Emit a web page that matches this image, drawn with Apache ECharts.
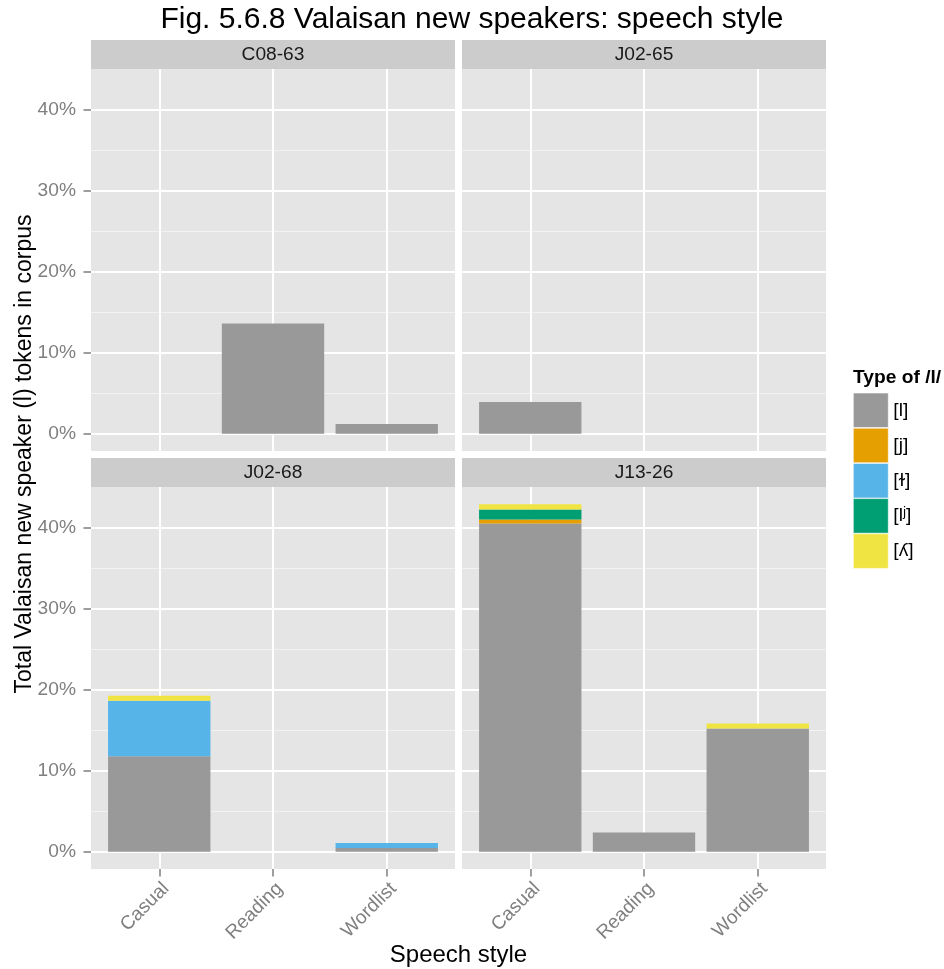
<!DOCTYPE html>
<html>
<head>
<meta charset="utf-8">
<title>Valaisan new speakers: speech style</title>
<script src="https://cdn.jsdelivr.net/npm/echarts@6/dist/echarts.min.js"></script>
<style>
  html, body { margin: 0; padding: 0; background: #ffffff; }
  #chart { width: 944px; height: 969px; }
</style>
</head>
<body>
<div id="chart"></div>
<script>
// Facet labels, x categories and fill types
const speakers = ['C08-63', 'J02-65', 'J02-68', 'J13-26'];
const categories = ['Casual', 'Reading', 'Wordlist'];
const lTypes = ['[l]', '[j]', '[ɫ]', '[lʲ]', '[ʎ]'];
const typeColors = ['#999999', '#E69F00', '#56B4E9', '#009E73', '#F0E442'];
const yTicks = [0, 10, 20, 30, 40];
const yMinorTicks = [5, 15, 25, 35];

// Share of tokens (%) per speaker: one row per type (order of lTypes),
// one column per speech style (order of categories)
const C08_63 = [
  [null, 13.6, 1.2],
  [null, null, null],
  [null, null, null],
  [null, null, null],
  [null, null, null]
];
const J02_65 = [
  [3.9, null, null],
  [null, null, null],
  [null, null, null],
  [null, null, null],
  [null, null, null]
];
const J02_68 = [
  [11.8, null, 0.46],
  [null, null, null],
  [6.85, null, 0.62],
  [null, null, null],
  [0.62, null, null]
];
const J13_26 = [
  [40.55, 2.35, 15.2],
  [0.5, null, null],
  [null, null, null],
  [1.24, null, null],
  [0.62, null, 0.62]
];
const panelValues = [C08_63, J02_65, J02_68, J13_26];

// Shared y range: stacked maximum with 5% padding on both sides
let maxTotal = 0;
panelValues.forEach(rows => {
  categories.forEach((c, i) => {
    const s = rows.reduce((a, r) => a + (r[i] || 0), 0);
    if (s > maxTotal) maxTotal = s;
  });
});
const yPad = maxTotal * 0.05;
const yMin = -yPad;
const yMax = maxTotal + yPad;

// Facet layout
const FONT = '"Liberation Sans", Arial, Helvetica, sans-serif';
const colLeft = [91, 462];
const rowTop = [69, 487];
const panelW = 364;
const panelH = 382;
const stripH = 29;
const xExpand = 0.6;
const unit = panelW / (categories.length - 1 + 2 * xExpand);

const grids = [], xAxes = [], yAxes = [], series = [], graphics = [];

speakers.forEach((name, k) => {
  const col = k % 2, row = Math.floor(k / 2);
  const left = colLeft[col], top = rowTop[row];
  const showY = col === 0, showX = row === 1;

  // panel background grid (grid lines, y axis)
  grids.push({ left: left, top: top, width: panelW, height: panelH, show: true,
    backgroundColor: '#E5E5E5', borderWidth: 0, containLabel: false, outerBoundsMode: 'none' });
  // bar grid spanning the three category bands
  grids.push({ left: left + (xExpand - 0.5) * unit, top: top, width: categories.length * unit,
    height: panelH, show: false, containLabel: false, outerBoundsMode: 'none' });

  const gBg = 2 * k, gBar = 2 * k + 1;

  xAxes.push({
    type: 'value', gridIndex: gBg, min: -xExpand, max: categories.length - 1 + xExpand,
    axisLine: { show: false, onZero: false },
    axisTick: { show: false, customValues: categories.map((c, i) => i) },
    axisLabel: { show: false, customValues: categories.map((c, i) => i) },
    splitLine: { show: true, lineStyle: { color: '#FFFFFF', width: 2 } }
  });
  xAxes.push({
    type: 'category', gridIndex: gBar, data: categories, boundaryGap: true,
    axisLine: { show: false, onZero: false },
    axisTick: { show: showX, alignWithLabel: true, length: 7.5,
      lineStyle: { color: '#7F7F7F', width: 1.5 } },
    axisLabel: { show: showX, interval: 0, rotate: 45, margin: 10, verticalAlign: 'top',
      color: '#7F7F7F', fontSize: 19.2, fontFamily: FONT },
    splitLine: { show: false }
  });

  yAxes.push({
    type: 'value', gridIndex: gBg, min: yMin, max: yMax, position: 'left',
    axisLine: { show: false, onZero: false },
    axisTick: { show: showY, length: 7.5, customValues: yTicks,
      lineStyle: { color: '#7F7F7F', width: 1.5 } },
    axisLabel: { show: showY, customValues: yTicks, margin: 15,
      formatter: v => v + '%', color: '#7F7F7F', fontSize: 19.2, fontFamily: FONT },
    splitLine: { show: true, lineStyle: { color: '#FFFFFF', width: 2 } },
    z: 1
  });
  yAxes.push({
    type: 'value', gridIndex: gBg, min: yMin, max: yMax, position: 'left',
    axisLine: { show: false, onZero: false },
    axisTick: { show: false, customValues: yMinorTicks },
    axisLabel: { show: false, customValues: yMinorTicks },
    splitLine: { show: true, lineStyle: { color: '#F2F2F2', width: 1 } },
    z: 0
  });
  yAxes.push({
    type: 'value', gridIndex: gBar, min: yMin, max: yMax, show: false,
    axisLine: { onZero: false }
  });

  lTypes.forEach((t, ti) => {
    series.push({
      type: 'bar', name: t, stack: name,
      xAxisIndex: 2 * k + 1, yAxisIndex: 3 * k + 2,
      barWidth: '90%',
      data: panelValues[k][ti],
      itemStyle: { color: typeColors[ti] },
      emphasis: { disabled: true }
    });
  });

  // facet strip
  graphics.push({
    type: 'rect', shape: { x: left, y: top - stripH, width: panelW, height: stripH },
    style: { fill: '#CCCCCC' }, silent: true
  });
  graphics.push({
    type: 'text', x: left + panelW / 2, y: top - stripH / 2,
    style: { text: name, fill: '#1A1A1A', fontSize: 19.2, fontFamily: FONT,
      align: 'center', verticalAlign: 'middle' }, silent: true
  });
});

// axis titles and legend title
graphics.push({
  type: 'text', x: 25, y: 454, rotation: Math.PI / 2,
  style: { text: 'Total Valaisan new speaker (l) tokens in corpus', fill: '#000000',
    fontSize: 23, fontFamily: FONT, align: 'center', verticalAlign: 'middle' }, silent: true
});
graphics.push({
  type: 'text', x: 458.5, y: 955,
  style: { text: 'Speech style', fill: '#000000', fontSize: 24, fontFamily: FONT,
    align: 'center', verticalAlign: 'middle' }, silent: true
});
graphics.push({
  type: 'text', x: 853, y: 378,
  style: { text: 'Type of /l/', fill: '#000000', fontSize: 19.2, fontWeight: 'bold',
    fontFamily: FONT, align: 'left', verticalAlign: 'middle' }, silent: true
});

const chart = echarts.init(document.getElementById('chart'), null, { renderer: 'canvas' });
chart.setOption({
  animation: false,
  backgroundColor: '#FFFFFF',
  title: {
    text: 'Fig. 5.6.8 Valaisan new speakers: speech style',
    left: 'center', top: 5, padding: 0,
    textStyle: { fontSize: 30, fontWeight: 'normal', color: '#000000', fontFamily: FONT }
  },
  legend: {
    data: lTypes, orient: 'vertical', left: 853, top: 392.7, padding: 0,
    itemWidth: 35, itemHeight: 34.6, itemGap: 0, icon: 'rect',
    itemStyle: { borderColor: '#FFFFFF', borderWidth: 0.6 },
    textStyle: { fontSize: 19.2, color: '#000000', fontFamily: FONT }
  },
  grid: grids,
  xAxis: xAxes,
  yAxis: yAxes,
  series: series,
  graphic: graphics
});
</script>
</body>
</html>
